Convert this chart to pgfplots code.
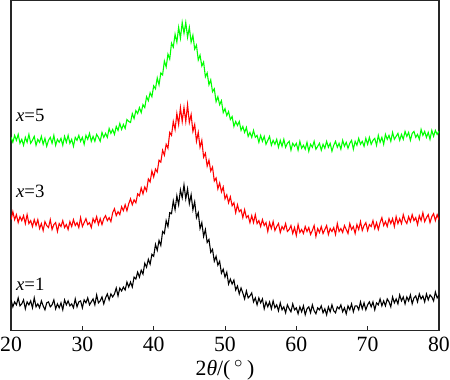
\documentclass[border=0pt]{standalone}
\usepackage{fontspec}
\setmainfont{Liberation Serif}
\usepackage{pgfplots}
\usepackage{pgfplotstable}
\pgfplotsset{compat=1.18}
\pgfplotstableread{
x b r g
20.00 31 112 195
20.25 24 120 190
20.50 29 112 197
20.75 26 117 192
21.00 33 109 198
21.25 25 115 189
21.50 27 111 193
21.75 31 116 187
22.00 22 108 195
22.25 29 117 190
22.50 26 108 198
22.75 30 111 189
23.00 23 105 192
23.25 33 112 196
23.50 24 106 187
23.75 27 112 193
24.00 23 103 190
24.25 30 108 196
24.50 25 101 188
24.75 21 110 194
25.00 28 106 186
25.25 29 104 192
25.50 24 112 195
25.75 26 102 189
26.00 31 107 197
26.25 22 109 187
26.50 27 100 193
26.75 23 108 190
27.00 28 105 194
27.25 21 111 187
27.50 31 104 196
27.75 26 107 190
28.00 30 102 197
28.25 25 110 189
28.50 27 105 193
28.75 23 112 186
29.00 32 106 195
29.25 24 109 192
29.50 29 104 197
29.75 30 114 191
30.00 23 105 195
30.25 31 109 188
30.50 28 113 197
30.75 33 107 193
31.00 26 109 199
31.25 29 104 191
31.50 32 113 196
31.75 26 109 191
32.00 36 115 198
32.25 28 107 195
32.50 30 113 191
32.75 34 107 200
33.00 27 113 195
33.25 33 116 199
33.50 37 111 195
33.75 31 114 204
34.00 37 110 199
34.25 34 119 203
34.50 37 123 198
34.75 43 116 206
35.00 35 120 202
35.25 43 117 209
35.50 40 125 203
35.75 44 121 208
36.00 41 127 204
36.25 49 121 213
36.50 44 128 211
36.75 49 133 210
37.00 44 127 219
37.25 54 132 214
37.50 52 129 222
37.75 59 138 219
38.00 54 136 225
38.25 61 144 220
38.50 57 138 228
38.75 68 145 225
39.00 64 141 236
39.25 72 153 232
39.50 67 150 240
39.75 77 161 236
40.00 75 155 247
40.25 87 163 244
40.50 81 160 255
40.75 91 172 248
41.00 86 170 260
41.25 100 182 258
41.50 98 177 272
41.75 111 188 266
42.00 105 184 279
42.25 119 200 274
42.50 118 197 290
42.75 131 211 286
43.00 122 203 299
43.25 136 219 291
43.50 127 208 306
43.75 142 225 295
44.00 134 211 311
44.25 147 225 300
44.50 133 211 311
44.75 143 228 296
45.00 128 210 306
45.25 137 218 291
45.50 122 201 298
45.75 130 208 284
46.00 114 191 288
46.25 119 200 273
46.50 103 185 278
46.75 109 192 267
47.00 95 175 271
47.25 102 179 256
47.50 89 166 260
47.75 92 172 248
48.00 79 161 253
48.25 82 165 241
48.50 70 151 244
48.75 75 154 231
49.00 66 143 236
49.25 70 149 228
49.50 58 140 232
49.75 62 145 220
50.00 54 133 224
50.25 59 137 217
50.50 47 129 221
50.75 52 135 213
51.00 47 126 216
51.25 51 129 206
51.50 41 119 211
51.75 45 127 207
52.00 37 120 211
52.25 43 122 202
52.50 38 114 206
52.75 32 122 200
53.00 40 114 205
53.25 33 116 196
53.50 35 109 200
53.75 38 116 195
54.00 29 109 202
54.25 33 117 195
54.50 26 108 197
54.75 33 111 190
55.00 28 105 197
55.25 32 112 191
55.50 22 106 196
55.75 29 109 188
56.00 24 100 192
56.25 29 109 196
56.50 22 103 187
56.75 30 110 192
57.00 23 101 188
57.25 26 105 193
57.50 20 108 185
57.75 28 99 192
58.00 21 105 186
58.25 24 102 193
58.50 18 108 185
58.75 26 100 189
59.00 22 102 191
59.25 19 106 182
59.50 27 98 189
59.75 21 104 186
60.00 23 96 189
60.25 17 107 182
60.50 24 99 191
60.75 19 102 184
61.00 25 98 187
61.25 16 105 183
61.50 22 100 190
61.75 24 104 181
62.00 18 97 188
62.25 26 101 185
62.50 20 106 191
62.75 17 95 183
63.00 23 103 186
63.25 21 99 189
63.50 25 105 182
63.75 18 98 188
64.00 22 102 184
64.25 16 106 191
64.50 24 97 185
64.75 19 103 189
65.00 26 100 181
65.25 20 104 187
65.50 18 97 191
65.75 24 108 185
66.00 22 100 189
66.25 26 103 183
66.50 19 99 192
66.75 23 106 186
67.00 17 102 190
67.25 25 98 184
67.50 21 108 189
67.75 27 102 192
68.00 19 105 183
68.25 25 98 191
68.50 25 107 187
68.75 21 102 194
69.00 29 110 188
69.25 22 101 191
69.50 28 106 186
69.75 21 109 194
70.00 26 101 188
70.25 29 107 195
70.50 24 105 188
70.75 29 111 192
71.00 21 103 194
71.25 28 109 187
71.50 26 102 197
71.75 32 109 190
72.00 25 114 195
72.25 30 106 188
72.50 25 110 198
72.75 32 105 193
73.00 29 113 197
73.25 24 108 191
73.50 34 113 200
73.75 28 105 193
74.00 32 115 196
74.25 27 108 199
74.50 36 113 192
74.75 30 108 198
75.00 34 117 193
75.25 27 111 201
75.50 34 108 196
75.75 30 115 200
76.00 36 110 192
76.25 27 117 199
76.50 33 111 201
76.75 35 114 195
77.00 29 107 198
77.25 37 116 193
77.50 32 111 203
77.75 35 119 197
78.00 29 110 201
78.25 37 114 195
78.50 31 117 200
78.75 36 109 193
79.00 34 115 202
79.25 30 118 196
79.50 39 111 202
79.75 33 117 198
80.00 36 112 201
}\xrd
\begin{document}
\begin{tikzpicture}[trim left=-5.6pt, trim right=222.1pt]
\begin{axis}[
  at={(0,0)}, anchor=south west,
  scale only axis,
  width=216.5pt, height=167pt,
  xmin=20, xmax=80, ymin=0, ymax=333,
  xtick={20,30,40,50,60,70,80},
  ytick=\empty,
  xtick pos=bottom,
  tick align=inside,
  major tick length=2.5pt,
  axis line style={line width=0.6pt, black!85},
  every tick/.style={line width=0.5pt, black!85},
  /pgf/number format/assume math mode=true,
  tick label style={font=\fontsize{11}{13}\selectfont},
  xticklabel style={inner sep=0pt, yshift=-3pt},
  xlabel={2\textit{θ}/(\,$^{\circ}$\,)},
  xlabel style={font=\fontsize{11}{13}\selectfont, at={(axis description cs:0.5,0)}, anchor=north, inner sep=0pt, yshift=-14.6pt},
  clip=true,
]
\addplot[black, line width=0.55pt] table[x=x, y=b] {\xrd};
\addplot[red, line width=0.55pt] table[x=x, y=r] {\xrd};
\addplot[green, line width=0.55pt] table[x=x, y=g] {\xrd};
\node[anchor=west, font=\fontsize{9.5}{11}\selectfont, inner sep=0pt] at (axis cs:20.65,217) {\textit{x}=5};
\node[anchor=west, font=\fontsize{9.5}{11}\selectfont, inner sep=0pt] at (axis cs:20.65,141) {\textit{x}=3};
\node[anchor=west, font=\fontsize{9.5}{11}\selectfont, inner sep=0pt] at (axis cs:20.65,47) {\textit{x}=1};
\end{axis}
\end{tikzpicture}
\end{document}
